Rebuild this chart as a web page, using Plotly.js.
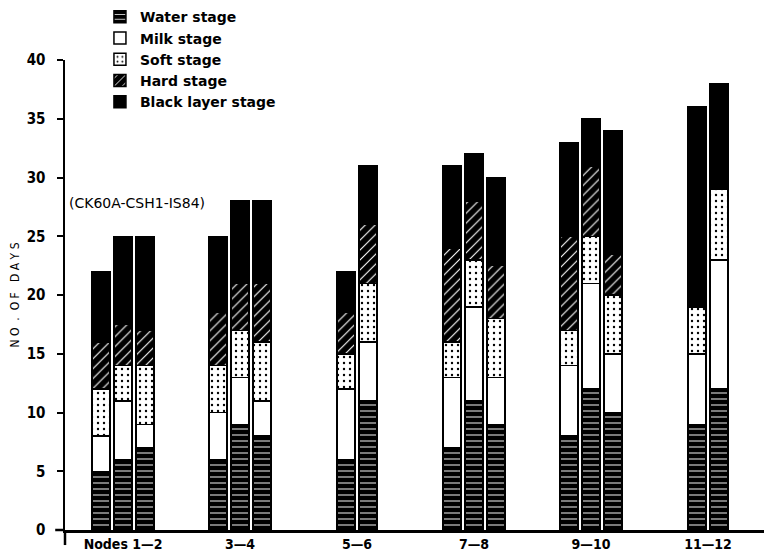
<!DOCTYPE html>
<html>
<head>
<meta charset="utf-8">
<script src="https://cdn.plot.ly/plotly-3.0.1.min.js"></script>
<style>
  html, body { margin: 0; padding: 0; background: #fff; }
  #chart { width: 764px; height: 555px; }
</style>
</head>
<body>
<div id="chart"></div>
<script>
// Node groups shown along the x axis
const nodeGroups = ['1—2', '3—4', '5—6', '7—8', '9—10', '11—12'];

// One entry per bar: the node group it belongs to and the variety
const barNode = ['1—2', '1—2', '1—2', '3—4', '3—4', '3—4', '5—6', '5—6',
                 '7—8', '7—8', '7—8', '9—10', '9—10', '9—10', '11—12', '11—12'];
const barVariety = ['CK60A', 'CSH1', 'IS84', 'CK60A', 'CSH1', 'IS84', 'CK60A', 'CSH1',
                    'CK60A', 'CSH1', 'IS84', 'CK60A', 'CSH1', 'IS84', 'CK60A', 'CSH1'];

// Duration of each grain-filling stage (days), per bar
const waterStage = [5, 6, 7, 6, 9, 8, 6, 11, 7, 11, 9, 8, 12, 10, 9, 12];
const milkStage  = [3, 5, 2, 4, 4, 3, 6, 5, 6, 8, 4, 6, 9, 5, 6, 11];
const softStage  = [4, 3, 5, 4, 4, 5, 3, 5, 3, 4, 5, 3, 4, 5, 4, 6];
const hardStage  = [4, 3.5, 3, 4.5, 4, 5, 3.5, 5, 8, 5, 4.5, 8, 6, 3.5, 0, 0];
const blackLayer = [6, 7.5, 8, 6.5, 7, 7, 3.5, 5, 7, 4, 7.5, 8, 4, 10.5, 17, 9];

// Axis ticks
const yTicks = [0, 5, 10, 15, 20, 25, 30, 35, 40];
const xTickText = ['Nodes 1—2', '3—4', '5—6', '7—8', '9—10', '11—12'];

// Place bars side by side inside their node group
const barStep = 0.188;
const barWidth = 0.154;
const xPos = barNode.map((node, i) => {
  const members = [];
  barNode.forEach((n, j) => { if (n === node) members.push(j); });
  const k = members.indexOf(i);
  return nodeGroups.indexOf(node) + (k - (members.length - 1) / 2) * barStep;
});
const hoverText = barNode.map((n, i) => 'Nodes ' + n + ' · ' + barVariety[i]);

const outline = { color: '#000', width: 1.5 };
function stageTrace(name, values, color, pattern) {
  return {
    type: 'bar', name: name, x: xPos, y: values, width: barWidth,
    text: hoverText, hovertemplate: '%{text}<br>' + name + ': %{y} days<extra></extra>',
    textposition: 'none',
    marker: { color: color, line: outline, pattern: pattern }
  };
}

const traces = [
  stageTrace('Water stage', waterStage, '#000',
    { shape: '-', bgcolor: '#000', fgcolor: '#fff', size: 6, solidity: 0.16, fillmode: 'replace' }),
  stageTrace('Milk stage', milkStage, '#fff', { shape: '' }),
  stageTrace('Soft stage', softStage, '#fff',
    { shape: '.', bgcolor: '#fff', fgcolor: '#000', size: 6, solidity: 0.12, fillmode: 'replace' }),
  stageTrace('Hard stage', hardStage, '#000',
    { shape: '/', bgcolor: '#000', fgcolor: '#fff', size: 7, solidity: 0.16, fillmode: 'replace' }),
  stageTrace('Black layer stage', blackLayer, '#000', { shape: '' })
];

const font = { family: 'DejaVu Sans Condensed, DejaVu Sans, sans-serif', color: '#000' };
const wideFont = { family: 'DejaVu Sans, sans-serif', color: '#000' };

const layout = {
  width: 764, height: 555,
  margin: { l: 65, r: 0, t: 60, b: 25 },
  paper_bgcolor: '#fff', plot_bgcolor: '#fff',
  barmode: 'stack',
  font: Object.assign({ size: 13 }, font),
  showlegend: true,
  legend: {
    x: 0.05, xanchor: 'left', y: 1.125, yanchor: 'top',
    traceorder: 'normal', bgcolor: 'rgba(0,0,0,0)',
    font: Object.assign({ size: 14, weight: 'bold' }, wideFont),
    itemwidth: 30, tracegroupgap: 0
  },
  xaxis: {
    range: [-0.496, 5.479],
    tickmode: 'array',
    tickvals: nodeGroups.map((_, i) => i),
    ticktext: xTickText,
    ticks: '', showgrid: false, zeroline: false,
    showline: true, linecolor: '#000', linewidth: 2.5,
    tickfont: Object.assign({ size: 14, weight: 600 }, font),
    fixedrange: true
  },
  yaxis: {
    range: [0, 40],
    tickmode: 'array', tickvals: yTicks,
    ticks: 'outside', ticklen: 6, tickwidth: 2, tickcolor: '#000',
    ticklabelstandoff: 8,
    showgrid: false, zeroline: false,
    showline: true, linecolor: '#000', linewidth: 2.5,
    tickfont: Object.assign({ size: 15, weight: 600 }, font),
    title: { text: 'N O  .  O F   D A Y S', standoff: 5,
             font: Object.assign({ size: 12 }, font) },
    fixedrange: true
  },
  shapes: [
    // axis lines run slightly past the origin
    { type: 'line', xref: 'paper', yref: 'paper', x0: 0, x1: 0, y0: 0, y1: -0.032,
      line: { color: '#000', width: 2.5 } },
    { type: 'line', xref: 'paper', yref: 'paper', x0: -0.014, x1: 0, y0: 0, y1: 0,
      line: { color: '#000', width: 2.5 } }
  ],
  annotations: [{
    text: '(CK60A-CSH1-IS84)', xref: 'paper', yref: 'y',
    x: 0.003, xanchor: 'left', y: 27.8, yanchor: 'middle',
    showarrow: false, font: Object.assign({ size: 14 }, wideFont)
  }]
};

Plotly.newPlot('chart', traces, layout, { displayModeBar: false, staticPlot: true });
</script>
</body>
</html>
